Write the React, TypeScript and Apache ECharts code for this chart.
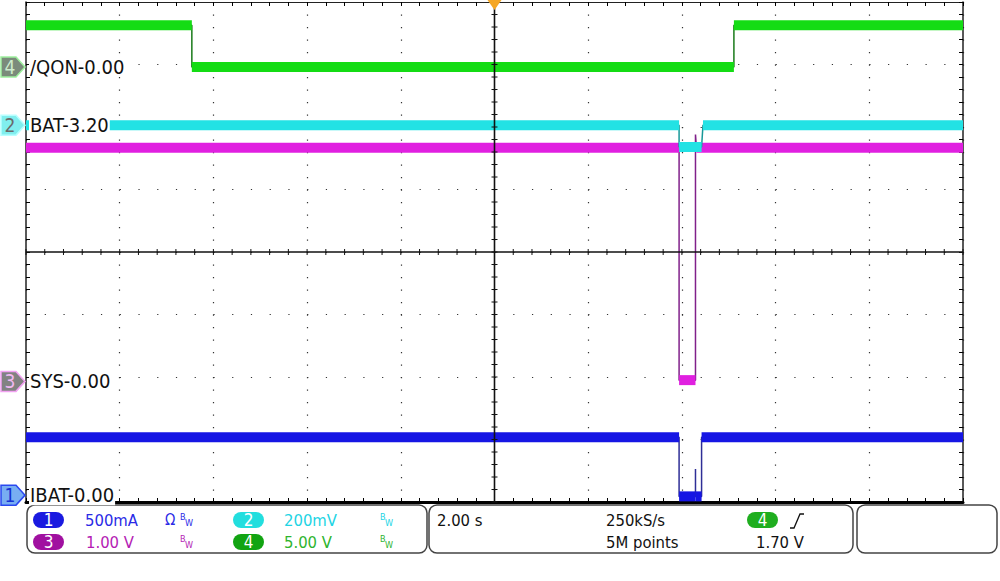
import React, { useEffect, useRef } from "react";
import * as echarts from "echarts";

// ---- Time base: seconds relative to trigger, 2.00 s/div, 10 divisions ----
const timeMin = -10;
const timeMax = 10;
const timePerDiv = 2;
const divMinY = -4;
const divMaxY = 4;

// ---- Channels (index 0..3 = scope channels 1..4) ----
const channelIds = ["1", "2", "3", "4"];
const channelNames = ["IBAT", "BAT", "SYS", "/QON"];
const channelOffsetText = ["0.00", "3.20", "0.00", "0.00"];
const channelScaleText = ["500mA", "200mV", "1.00 V", "5.00 V"];
const channelUnitsPerDiv = [0.5, 0.2, 1.0, 5.0];
const channelOffsetValue = [0.0, 3.2, 0.0, 0.0];
const channelMarkerDiv = [-3.89, 2.03, -2.07, 2.96];
const channelColors = ["#1616e4", "#22e2e4", "#e020e0", "#14dc14"];
const channelEdgeColors = ["#2e2e96", "#189898", "#80208a", "#1a7a1a"];
const channelTextColors = ["#2a2ae6", "#22d4e4", "#b41cb4", "#2eb42e"];
const channelPillColors = ["#1a1ae0", "#22dede", "#a010a0", "#12a412"];

// ---- Waveforms [time s, value] ----
const ibatAmps: [number, number][] = [
  [-10, 0.464], [3.94, 0.464], [3.94, -0.01], [4.29, -0.01], [4.29, 0.21],
  [4.29, -0.01], [4.42, -0.01], [4.42, 0.464], [10, 0.464],
];
const batVolts: [number, number][] = [
  [-10, 3.2], [3.94, 3.2], [3.94, 3.13], [4.42, 3.13], [4.45, 3.2], [10, 3.2],
];
const sysVolts: [number, number][] = [
  [-10, 3.74], [3.94, 3.74], [3.94, 0.02], [4.29, 0.02], [4.29, 3.95], [4.31, 3.74], [10, 3.74],
];
const qonVolts: [number, number][] = [
  [-10, 3.35], [-6.46, 3.35], [-6.46, 0.0], [5.11, 0.0], [5.11, 3.35], [10, 3.35],
];
const channelData = [ibatAmps, batVolts, sysVolts, qonVolts];
const drawOrder = [0, 2, 1, 3];

// ---- Status bar texts ----
const timebaseText = "2.00 s";
const sampleRateText = "250kS/s";
const recordText = "5M points";
const triggerChannel = "4";
const triggerLevelText = "1.70 V";

const FONT = "'DejaVu Sans Condensed', 'DejaVu Sans', sans-serif";

export default function App() {
  const ref = useRef<HTMLDivElement>(null);
  useEffect(() => {
    document.body.style.margin = "0";
    const chart = echarts.init(ref.current!, undefined, { renderer: "svg" });
    const toDiv = (ch: number, v: number) =>
      channelMarkerDiv[ch] + (v - channelOffsetValue[ch]) / channelUnitsPerDiv[ch];

    const series: any[] = [];
    drawOrder.forEach((ch, k) => {
      const pts = channelData[ch].map(([t, v]) => [t, toDiv(ch, v)]);
      series.push({
        type: "line", data: pts, symbol: "none", silent: true, z: 3 + k * 2,
        lineStyle: { color: channelEdgeColors[ch], width: 1.5 },
      });
      for (let i = 0; i < pts.length - 1; i++) {
        if (pts[i][1] === pts[i + 1][1] && pts[i][0] !== pts[i + 1][0]) {
          series.push({
            type: "line", data: [pts[i], pts[i + 1]], symbol: "none", silent: true, z: 4 + k * 2,
            lineStyle: { color: channelColors[ch], width: 10, cap: "butt" },
          });
        }
      }
    });

    const tick = { show: true, inside: true, length: 4, lineStyle: { color: "#000", width: 1 } };
    const minor = { show: true, splitNumber: 5, length: 4, lineStyle: { color: "#000", width: 1 } };
    const xBase = { type: "value", min: timeMin, max: timeMax, interval: timePerDiv, axisLabel: { show: false }, axisTick: tick, minorTick: minor };
    const yBase = { type: "value", min: divMinY, max: divMaxY, interval: 1, axisLabel: { show: false }, axisTick: tick, minorTick: minor };

    chart.setOption({
      animation: false,
      grid: { left: 26, top: 2, width: 937, height: 500 },
      xAxis: [
        { ...xBase, position: "bottom", axisLine: { show: true, onZero: false, lineStyle: { color: "#000", width: 3 } },
          splitLine: { show: true, lineStyle: { color: "#333", width: 1.2, type: [1.2, 11.3] } } },
        { ...xBase, position: "top", axisLine: { show: true, onZero: false, lineStyle: { color: "#222", width: 1 } }, splitLine: { show: false } },
      ],
      yAxis: [
        { ...yBase, position: "left", axisLine: { show: true, onZero: false, lineStyle: { color: "#222", width: 1.5 } },
          splitLine: { show: true, lineStyle: { color: "#333", width: 1.2, type: [1.2, 17.54] } } },
        { ...yBase, position: "right", axisLine: { show: true, onZero: false, lineStyle: { color: "#222", width: 1.5 } }, splitLine: { show: false } },
      ],
      series,
    });

    const P = (x: number, y: number) => chart.convertToPixel({ seriesIndex: 0 }, [x, y]) as number[];
    const [cx, cy] = P(0, 0);
    const [lx, by] = P(timeMin, divMinY);
    const [rx, ty] = P(timeMax, divMaxY);
    const g: any[] = [];
    // centre cross
    g.push({ type: "line", silent: true, z: 60, shape: { x1: lx, y1: cy, x2: rx, y2: cy }, style: { stroke: "#111", lineWidth: 1.6 } });
    g.push({ type: "line", silent: true, z: 60, shape: { x1: cx, y1: ty, x2: cx, y2: by }, style: { stroke: "#111", lineWidth: 1.6 } });
    for (let i = 0; i <= 50; i++) {
      const [px] = P(timeMin + (i * timePerDiv) / 5, 0);
      g.push({ type: "line", silent: true, z: 60, shape: { x1: px, y1: cy - 3, x2: px, y2: cy + 3 }, style: { stroke: "#111", lineWidth: 1 } });
    }
    for (let i = 0; i <= 40; i++) {
      const [, py] = P(0, divMinY + i / 5);
      g.push({ type: "line", silent: true, z: 60, shape: { x1: cx - 3, y1: py, x2: cx + 3, y2: py }, style: { stroke: "#111", lineWidth: 1 } });
    }
    // trigger position marker
    g.push({ type: "polygon", silent: true, z: 70, shape: { points: [[cx - 7, 0], [cx + 7, 0], [cx, 10]] }, style: { fill: "#f5a623" } });

    // channel markers and labels
    const markerStyle = [
      { fill: "#78aef2", stroke: "#2a48f0", text: "#1432d4" },
      { fill: "#80eeee", stroke: "#b8ffff", text: "#6a6a6a" },
      { fill: "#828282", stroke: "#f2a2f2", text: "#f2b8f2" },
      { fill: "#7b8b7b", stroke: "#9ef09e", text: "#cdeccd" },
    ];
    for (let ch = 0; ch < 4; ch++) {
      const [, my] = P(0, channelMarkerDiv[ch]);
      const m = markerStyle[ch];
      g.push({ type: "polygon", silent: true, z: 90,
        shape: { points: [[1, my - 10], [16, my - 10], [25, my], [16, my + 10], [1, my + 10]] },
        style: { fill: m.fill, stroke: m.stroke, lineWidth: 1.5 } });
      g.push({ type: "text", silent: true, z: 91, x: 10, y: my,
        style: { text: channelIds[ch], fill: m.text, fontSize: 19, fontFamily: FONT, align: "center", verticalAlign: "middle", textAlign: "center", textVerticalAlign: "middle" } });
      g.push({ type: "text", silent: true, z: 100, x: 29, y: my,
        style: { text: `${channelNames[ch]}-${channelOffsetText[ch]}`, fill: "#111", fontSize: 20, fontFamily: FONT,
          verticalAlign: "middle", textVerticalAlign: "middle", backgroundColor: "#fff", padding: [0, 1] } });
    }

    // status bar
    const box = (x: number, y: number, w: number, h: number) =>
      g.push({ type: "rect", silent: true, z: 10, shape: { x, y, width: w, height: h, r: 8 }, style: { fill: "#fff", stroke: "#444", lineWidth: 1.5 } });
    const txt = (s: string, x: number, y: number, color: string, size = 16.5, align = "left") =>
      g.push({ type: "text", silent: true, z: 20, x, y,
        style: { text: s, fill: color, fontSize: size, fontFamily: FONT, align, textAlign: align, verticalAlign: "middle", textVerticalAlign: "middle" } });
    const pill = (s: string, x: number, y: number, color: string) => {
      g.push({ type: "rect", silent: true, z: 15, shape: { x, y: y - 8, width: 31, height: 16, r: 8 }, style: { fill: color } });
      txt(s, x + 15.5, y, "#fff", 17, "center");
    };
    const bw = (x: number, y: number, color: string) => {
      txt("B", x, y - 3, color, 9);
      txt("W", x + 5, y + 3, color, 9);
    };
    box(27, 505, 400, 48);
    box(429, 505, 424, 48);
    box(857, 505, 140, 48);
    const r1 = 520, r2 = 542;
    pill(channelIds[0], 33, r1, channelPillColors[0]);
    txt(channelScaleText[0], 85, r1, channelTextColors[0]);
    txt("Ω", 165, r1, channelTextColors[0], 15);
    bw(180, r1, channelTextColors[0]);
    pill(channelIds[1], 233, r1, channelPillColors[1]);
    txt(channelScaleText[1], 284, r1, channelTextColors[1]);
    bw(380, r1, channelTextColors[1]);
    pill(channelIds[2], 33, r2, channelPillColors[2]);
    txt(channelScaleText[2], 86, r2, channelTextColors[2]);
    bw(180, r2, channelTextColors[2]);
    pill(channelIds[3], 233, r2, channelPillColors[3]);
    txt(channelScaleText[3], 284, r2, channelTextColors[3]);
    bw(380, r2, channelTextColors[3]);

    txt(timebaseText, 437, r1, "#111");
    txt(sampleRateText, 606, r1, "#111");
    txt(recordText, 606, r2, "#111");
    pill(triggerChannel, 747, r1, "#1fae1f");
    g.push({ type: "polyline", silent: true, z: 20, shape: { points: [[790, 528], [794, 528], [800, 514], [804, 514]] }, style: { stroke: "#111", lineWidth: 1.3, fill: "none" } });
    txt(triggerLevelText, 756, r2, "#111");

    chart.setOption({ graphic: { elements: g } });
    return () => chart.dispose();
  }, []);
  return <div ref={ref} style={{ width: 1000, height: 581 }} />;
}
